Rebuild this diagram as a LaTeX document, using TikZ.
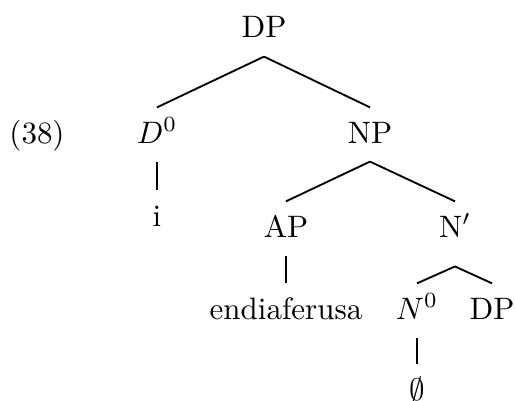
\documentclass[tikz,border=0pt]{standalone}
\usepackage{amsmath, amssymb}
\usepackage{tikz}

\begin{document}
\begin{tikzpicture}[x=0.3226pt, y=-0.3226pt,
    cat/.style={inner xsep=0pt, inner ysep=4.5pt, text height=6.8pt, text depth=1.3pt, anchor=base},
    branch/.style={line width=0.6pt}]
                \useasboundingbox (0, 0) rectangle (515, 401);
                % example number
                \node[cat] (ex) at (37, 143) {(38)};
                % categories
                \node[cat] (top) at (264, 38) {DP};
                \node[cat] (d0) at (157, 143) {$D^0$};
                \node[cat] (np) at (370, 143) {NP};
                \node[cat] (ap) at (286, 237) {AP};
                \node[cat] (nbar) at (455, 237) {N$'$};
                \node[cat] (n0) at (417, 319) {$N^0$};
                \node[cat] (dp) at (492, 319) {DP};
                % words
                \node[cat] (i) at (157, 226) {i};
                \node[cat] (endia) at (286, 319) {endiaferusa};
                \node[cat] (nul) at (417, 400) {$\emptyset$};
                % branches
                \draw[branch] (top.south) -- (d0.north);
                \draw[branch] (top.south) -- (np.north);
                \draw[branch] (d0.south) -- (i.north);
                \draw[branch] (np.south) -- (ap.north);
                \draw[branch] (np.south) -- (nbar.north);
                \draw[branch] (ap.south) -- (endia.north);
                \draw[branch] ([yshift=-3.5pt]nbar.south) -- (n0.north);
                \draw[branch] ([yshift=-3.5pt]nbar.south) -- (dp.north);
                \draw[branch] (n0.south) -- (nul.north);
            \end{tikzpicture}
\end{document}
